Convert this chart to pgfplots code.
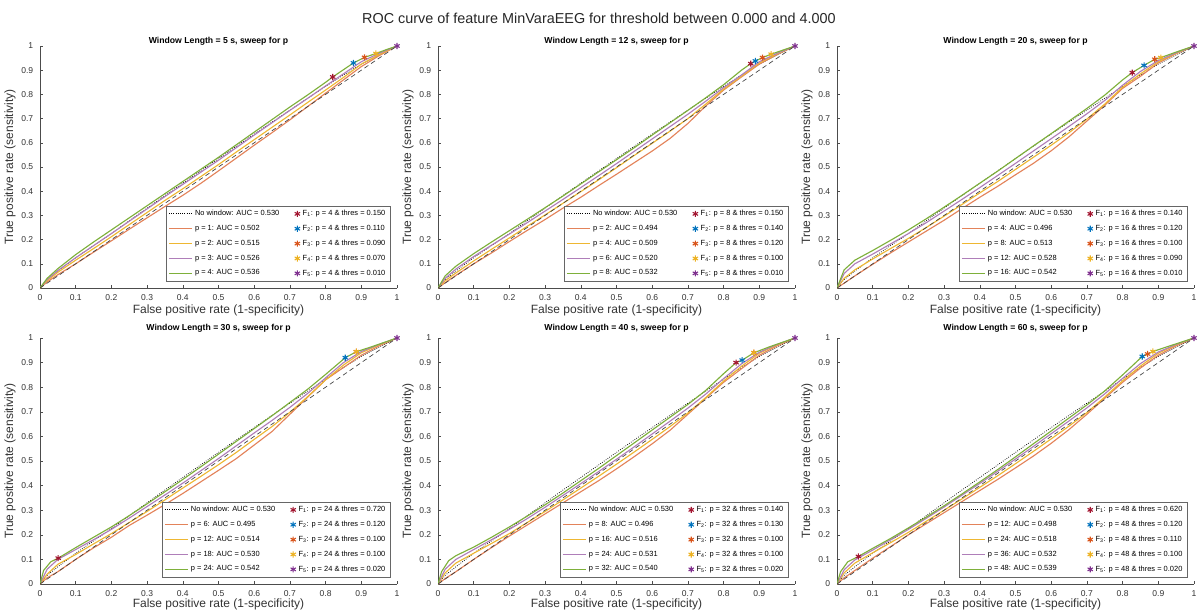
\documentclass[border=0pt]{standalone}
\usepackage{pgfplots}
\usepackage{pgfplotstable}
\pgfplotsset{compat=1.18}
\usepackage{fontspec}
\setmainfont{Liberation Sans}

\definecolor{mOrange}{rgb}{0.85,0.325,0.098}
\definecolor{mYellow}{rgb}{0.929,0.694,0.125}
\definecolor{mPurple}{rgb}{0.494,0.184,0.556}
\definecolor{mGreen}{rgb}{0.466,0.674,0.188}
\definecolor{mBlue}{rgb}{0,0.447,0.741}
\definecolor{mRed}{rgb}{0.635,0.078,0.184}
\colorlet{cO}{mOrange!72!white}
\colorlet{cY}{mYellow!92!white}
\colorlet{cP}{mPurple!62!white}
\colorlet{cG}{mGreen!95!white}

\pgfplotstableread{
x y
0 0
0.02 0.035
0.05 0.07
0.1 0.125
0.15 0.175
0.2 0.225
0.25 0.278
0.3 0.33
0.35 0.382
0.4 0.433
0.45 0.484
0.5 0.535
0.55 0.586
0.6 0.636
0.65 0.686
0.7 0.735
0.75 0.784
0.8 0.833
0.85 0.88
0.9 0.925
0.95 0.963
1 1
}\nowin

\pgfplotsset{
  roc/.style={
    scale only axis, width=267.75pt,
    xmin=0, xmax=1, ymin=0, ymax=1,
    axis x line*=bottom, axis y line*=left,
    axis line style={-, draw=black!70, line width=0.45pt},
    tick align=inside, major tick length=2.6pt,
    tick style={draw=black!70, line width=0.45pt},
    xtick={0,0.1,0.2,0.3,0.4,0.5,0.6,0.7,0.8,0.9,1},
    ytick={0,0.1,0.2,0.3,0.4,0.5,0.6,0.7,0.8,0.9,1},
    /pgf/number format/.cd, fixed, precision=1, assume math mode=true, /pgfplots/.cd,
    tick label style={font=\fontsize{6.4}{7.5}\selectfont, text=black!80},
    xticklabel style={yshift=-1.2pt},
    yticklabel style={xshift=-1.6pt},
    xlabel={False positive rate (1-specificity)},
    ylabel={True positive rate (sensitivity)},
    label style={font=\fontsize{9}{10}\selectfont, text=black!80},
    xlabel style={at={(axis description cs:0.5,-0.091)}, anchor=center},
    ylabel style={at={(axis description cs:-0.084,0.5)}, anchor=center, rotate=0},
    title style={font=\bfseries\fontsize{6.5}{7.5}\selectfont, text=black, yshift=-9pt},
    legend columns=2,
    legend cell align=left,
    legend style={at={(rel axis cs:1,0)}, anchor=south east, xshift=-5pt, yshift=5pt,
      font=\fontsize{5.6}{6.5}\selectfont, draw=black!60, line width=0.4pt,
      inner xsep=1.5pt, inner ysep=1pt, row sep=1.6pt,
      /tikz/every even column/.append style={column sep=9.5pt}},
  },
  row2/.style={height=184.5pt, title style={yshift=4pt},
    xlabel style={at={(axis description cs:0.5,-0.081)}}},
  nw/.style={black, line width=0.55pt, dash pattern=on 0.55pt off 1.1pt},
  pO/.style={cO, line width=0.85pt},
  pY/.style={cY, line width=0.85pt},
  pP/.style={cP, line width=0.85pt},
  pG/.style={cG, line width=0.85pt},
  dg/.style={black!75, line width=0.5pt, dash pattern=on 3.5pt off 2.5pt},
  mk/.style={only marks, mark=asterisk, mark size=2.3pt, line width=0.8pt},
  m1/.style={mk, mRed, mark options={mRed}},
  m2/.style={mk, mBlue, mark options={mBlue}},
  m3/.style={mk, mOrange, mark options={mOrange}},
  m4/.style={mk, mYellow, mark options={mYellow}},
  m5/.style={mk, mPurple, mark options={mPurple}},
}

\begin{document}
\begin{tikzpicture}
\useasboundingbox (0pt,0pt) rectangle (898.5pt,-457.5pt);
\node[font=\fontsize{10.8}{12}\selectfont, text=black!85] at (449.25pt,-13.5pt)
  {ROC curve of feature MinVaraEEG for threshold between 0.000 and 4.000};

% ---------------- Panel 1: 5 s ----------------
\begin{axis}[roc, at={(30pt,-216pt)}, anchor=south west, height=181.5pt,
  title={Window Length = 5 s, sweep for p}]
\addplot[nw, forget plot] table {\nowin};
\addplot[pO, forget plot] coordinates {(0,0)(0.02,0.025)(0.05,0.055)(0.1,0.1)(0.15,0.148)(0.2,0.195)(0.25,0.243)(0.3,0.29)(0.35,0.337)(0.4,0.383)(0.45,0.432)(0.5,0.484)(0.55,0.537)(0.6,0.59)(0.65,0.642)(0.7,0.695)(0.75,0.75)(0.8,0.805)(0.85,0.86)(0.9,0.915)(0.95,0.96)(1,1)};
\addplot[pY, forget plot] coordinates {(0,0)(0.02,0.03)(0.05,0.065)(0.1,0.115)(0.15,0.163)(0.2,0.212)(0.25,0.262)(0.3,0.312)(0.35,0.362)(0.4,0.41)(0.45,0.46)(0.5,0.51)(0.55,0.562)(0.6,0.613)(0.65,0.664)(0.7,0.715)(0.75,0.767)(0.8,0.818)(0.85,0.87)(0.9,0.925)(0.95,0.965)(1,1)};
\addplot[pP, forget plot] coordinates {(0,0)(0.02,0.035)(0.05,0.072)(0.1,0.125)(0.15,0.175)(0.2,0.225)(0.25,0.276)(0.3,0.327)(0.35,0.378)(0.4,0.428)(0.45,0.478)(0.5,0.528)(0.55,0.58)(0.6,0.632)(0.65,0.683)(0.7,0.734)(0.75,0.784)(0.8,0.835)(0.85,0.885)(0.9,0.935)(0.95,0.97)(1,1)};
\addplot[pG, forget plot] coordinates {(0,0)(0.02,0.04)(0.05,0.08)(0.1,0.138)(0.15,0.19)(0.2,0.24)(0.25,0.29)(0.3,0.34)(0.35,0.39)(0.4,0.44)(0.45,0.49)(0.5,0.54)(0.55,0.592)(0.6,0.644)(0.65,0.696)(0.7,0.748)(0.75,0.798)(0.8,0.85)(0.82,0.872)(0.878,0.93)(0.909,0.953)(0.941,0.969)(0.97,0.985)(1,1)};
\addplot[dg, forget plot] coordinates {(0,0)(1,1)};
\addplot[m1, forget plot] coordinates {(0.82,0.872)};
\addplot[m2, forget plot] coordinates {(0.878,0.93)};
\addplot[m3, forget plot] coordinates {(0.909,0.953)};
\addplot[m4, forget plot] coordinates {(0.941,0.969)};
\addplot[m5, forget plot] coordinates {(1,1)};
\addlegendimage{nw}\addlegendentry{No window: AUC = 0.530}
\addlegendimage{m1}\addlegendentry{F\textsubscript{1}: p = 4 \& thres = 0.150}
\addlegendimage{pO}\addlegendentry{p = 1: AUC = 0.502}
\addlegendimage{m2}\addlegendentry{F\textsubscript{2}: p = 4 \& thres = 0.110}
\addlegendimage{pY}\addlegendentry{p = 2: AUC = 0.515}
\addlegendimage{m3}\addlegendentry{F\textsubscript{3}: p = 4 \& thres = 0.090}
\addlegendimage{pP}\addlegendentry{p = 3: AUC = 0.526}
\addlegendimage{m4}\addlegendentry{F\textsubscript{4}: p = 4 \& thres = 0.070}
\addlegendimage{pG}\addlegendentry{p = 4: AUC = 0.536}
\addlegendimage{m5}\addlegendentry{F\textsubscript{5}: p = 4 \& thres = 0.010}
\end{axis}

% ---------------- Panel 2: 12 s ----------------
\begin{axis}[roc, at={(328.5pt,-216pt)}, anchor=south west, height=181.5pt,
  title={Window Length = 12 s, sweep for p}]
\addplot[nw, forget plot] table {\nowin};
\addplot[pO, forget plot] coordinates {(0,0)(0.02,0.022)(0.05,0.052)(0.1,0.1)(0.15,0.145)(0.2,0.192)(0.25,0.238)(0.3,0.283)(0.35,0.33)(0.4,0.375)(0.45,0.423)(0.5,0.47)(0.55,0.518)(0.6,0.566)(0.65,0.618)(0.7,0.68)(0.75,0.752)(0.8,0.818)(0.85,0.872)(0.9,0.925)(0.95,0.965)(1,1)};
\addplot[pY, forget plot] coordinates {(0,0)(0.02,0.03)(0.05,0.062)(0.1,0.112)(0.15,0.16)(0.2,0.207)(0.25,0.255)(0.3,0.302)(0.35,0.35)(0.4,0.398)(0.45,0.447)(0.5,0.497)(0.55,0.548)(0.6,0.598)(0.65,0.648)(0.7,0.7)(0.75,0.76)(0.8,0.822)(0.85,0.875)(0.9,0.93)(0.95,0.968)(1,1)};
\addplot[pP, forget plot] coordinates {(0,0)(0.02,0.04)(0.05,0.078)(0.1,0.13)(0.15,0.177)(0.2,0.223)(0.25,0.27)(0.3,0.318)(0.35,0.366)(0.4,0.415)(0.45,0.464)(0.5,0.514)(0.55,0.565)(0.6,0.616)(0.65,0.667)(0.7,0.718)(0.75,0.772)(0.8,0.828)(0.85,0.88)(0.9,0.935)(0.95,0.97)(1,1)};
\addplot[pG, forget plot] coordinates {(0,0)(0.02,0.05)(0.05,0.09)(0.1,0.142)(0.15,0.19)(0.2,0.237)(0.25,0.284)(0.3,0.332)(0.35,0.38)(0.4,0.43)(0.45,0.48)(0.5,0.53)(0.55,0.58)(0.6,0.632)(0.65,0.683)(0.7,0.734)(0.75,0.786)(0.8,0.84)(0.85,0.9)(0.876,0.927)(0.889,0.938)(0.909,0.952)(0.933,0.966)(0.97,0.985)(1,1)};
\addplot[dg, forget plot] coordinates {(0,0)(1,1)};
\addplot[m1, forget plot] coordinates {(0.876,0.927)};
\addplot[m2, forget plot] coordinates {(0.889,0.938)};
\addplot[m3, forget plot] coordinates {(0.909,0.952)};
\addplot[m4, forget plot] coordinates {(0.933,0.966)};
\addplot[m5, forget plot] coordinates {(1,1)};
\addlegendimage{nw}\addlegendentry{No window: AUC = 0.530}
\addlegendimage{m1}\addlegendentry{F\textsubscript{1}: p = 8 \& thres = 0.150}
\addlegendimage{pO}\addlegendentry{p = 2: AUC = 0.494}
\addlegendimage{m2}\addlegendentry{F\textsubscript{2}: p = 8 \& thres = 0.140}
\addlegendimage{pY}\addlegendentry{p = 4: AUC = 0.509}
\addlegendimage{m3}\addlegendentry{F\textsubscript{3}: p = 8 \& thres = 0.120}
\addlegendimage{pP}\addlegendentry{p = 6: AUC = 0.520}
\addlegendimage{m4}\addlegendentry{F\textsubscript{4}: p = 8 \& thres = 0.100}
\addlegendimage{pG}\addlegendentry{p = 8: AUC = 0.532}
\addlegendimage{m5}\addlegendentry{F\textsubscript{5}: p = 8 \& thres = 0.010}
\end{axis}

% ---------------- Panel 3: 20 s ----------------
\begin{axis}[roc, at={(627.75pt,-216pt)}, anchor=south west, height=181.5pt,
  title={Window Length = 20 s, sweep for p}]
\addplot[nw, forget plot] table {\nowin};
\addplot[pO, forget plot] coordinates {(0,0)(0.02,0.02)(0.05,0.05)(0.1,0.098)(0.15,0.145)(0.2,0.19)(0.25,0.235)(0.3,0.28)(0.35,0.328)(0.4,0.375)(0.45,0.42)(0.5,0.468)(0.55,0.515)(0.6,0.567)(0.65,0.625)(0.7,0.69)(0.75,0.755)(0.8,0.825)(0.85,0.875)(0.9,0.93)(0.95,0.968)(1,1)};
\addplot[pY, forget plot] coordinates {(0,0)(0.02,0.04)(0.05,0.075)(0.1,0.12)(0.15,0.163)(0.2,0.205)(0.25,0.25)(0.3,0.297)(0.35,0.345)(0.4,0.393)(0.45,0.44)(0.5,0.49)(0.55,0.54)(0.6,0.59)(0.65,0.642)(0.7,0.698)(0.75,0.76)(0.8,0.83)(0.85,0.885)(0.9,0.935)(0.95,0.97)(1,1)};
\addplot[pP, forget plot] coordinates {(0,0)(0.02,0.06)(0.05,0.1)(0.1,0.14)(0.15,0.182)(0.2,0.225)(0.25,0.27)(0.3,0.318)(0.35,0.366)(0.4,0.415)(0.45,0.465)(0.5,0.515)(0.55,0.566)(0.6,0.617)(0.65,0.668)(0.7,0.72)(0.75,0.775)(0.8,0.838)(0.85,0.895)(0.9,0.94)(0.95,0.972)(1,1)};
\addplot[pG, forget plot] coordinates {(0,0)(0.02,0.075)(0.05,0.115)(0.1,0.155)(0.15,0.197)(0.2,0.24)(0.25,0.286)(0.3,0.334)(0.35,0.383)(0.4,0.433)(0.45,0.483)(0.5,0.535)(0.55,0.587)(0.6,0.638)(0.65,0.69)(0.7,0.742)(0.75,0.797)(0.8,0.86)(0.827,0.89)(0.86,0.92)(0.89,0.945)(0.907,0.952)(0.95,0.975)(1,1)};
\addplot[dg, forget plot] coordinates {(0,0)(1,1)};
\addplot[m1, forget plot] coordinates {(0.827,0.89)};
\addplot[m2, forget plot] coordinates {(0.86,0.92)};
\addplot[m3, forget plot] coordinates {(0.89,0.945)};
\addplot[m4, forget plot] coordinates {(0.907,0.952)};
\addplot[m5, forget plot] coordinates {(1,1)};
\addlegendimage{nw}\addlegendentry{No window: AUC = 0.530}
\addlegendimage{m1}\addlegendentry{F\textsubscript{1}: p = 16 \& thres = 0.140}
\addlegendimage{pO}\addlegendentry{p = 4: AUC = 0.496}
\addlegendimage{m2}\addlegendentry{F\textsubscript{2}: p = 16 \& thres = 0.120}
\addlegendimage{pY}\addlegendentry{p = 8: AUC = 0.513}
\addlegendimage{m3}\addlegendentry{F\textsubscript{3}: p = 16 \& thres = 0.100}
\addlegendimage{pP}\addlegendentry{p = 12: AUC = 0.528}
\addlegendimage{m4}\addlegendentry{F\textsubscript{4}: p = 16 \& thres = 0.090}
\addlegendimage{pG}\addlegendentry{p = 16: AUC = 0.542}
\addlegendimage{m5}\addlegendentry{F\textsubscript{5}: p = 16 \& thres = 0.010}
\end{axis}

% ---------------- Panel 4: 30 s ----------------
\begin{axis}[roc, row2, at={(30pt,-438pt)}, anchor=south west,
  title={Window Length = 30 s, sweep for p}]
\addplot[nw, forget plot] table {\nowin};
\addplot[pO, forget plot] coordinates {(0,0)(0.02,0.025)(0.05,0.05)(0.1,0.1)(0.15,0.147)(0.2,0.19)(0.25,0.238)(0.3,0.28)(0.35,0.323)(0.4,0.368)(0.45,0.415)(0.5,0.462)(0.55,0.51)(0.6,0.565)(0.65,0.62)(0.7,0.69)(0.75,0.76)(0.8,0.83)(0.85,0.88)(0.9,0.93)(0.95,0.968)(1,1)};
\addplot[pY, forget plot] coordinates {(0,0)(0.02,0.04)(0.05,0.08)(0.1,0.12)(0.15,0.163)(0.2,0.205)(0.25,0.25)(0.3,0.295)(0.35,0.342)(0.4,0.39)(0.45,0.437)(0.5,0.485)(0.55,0.535)(0.6,0.588)(0.65,0.64)(0.7,0.698)(0.75,0.762)(0.8,0.83)(0.85,0.89)(0.9,0.94)(0.95,0.972)(1,1)};
\addplot[pP, forget plot] coordinates {(0,0)(0.02,0.06)(0.05,0.1)(0.1,0.14)(0.15,0.18)(0.2,0.222)(0.25,0.268)(0.3,0.315)(0.35,0.362)(0.4,0.41)(0.45,0.46)(0.5,0.51)(0.55,0.562)(0.6,0.614)(0.65,0.665)(0.7,0.718)(0.75,0.775)(0.8,0.838)(0.85,0.9)(0.9,0.945)(0.95,0.974)(1,1)};
\addplot[pG, forget plot] coordinates {(0,0)(0.01,0.055)(0.03,0.09)(0.051,0.105)(0.1,0.148)(0.15,0.19)(0.2,0.232)(0.25,0.278)(0.3,0.326)(0.35,0.375)(0.4,0.425)(0.45,0.476)(0.5,0.528)(0.55,0.58)(0.6,0.632)(0.65,0.684)(0.7,0.738)(0.75,0.792)(0.8,0.852)(0.855,0.92)(0.886,0.944)(0.93,0.965)(1,1)};
\addplot[dg, forget plot] coordinates {(0,0)(1,1)};
\addplot[m1, forget plot] coordinates {(0.051,0.105)};
\addplot[m2, forget plot] coordinates {(0.855,0.92)};
\addplot[m3, forget plot] coordinates {(0.886,0.944)};
\addplot[m4, forget plot] coordinates {(0.886,0.944)};
\addplot[m5, forget plot] coordinates {(1,1)};
\addlegendimage{nw}\addlegendentry{No window: AUC = 0.530}
\addlegendimage{m1}\addlegendentry{F\textsubscript{1}: p = 24 \& thres = 0.720}
\addlegendimage{pO}\addlegendentry{p = 6: AUC = 0.495}
\addlegendimage{m2}\addlegendentry{F\textsubscript{2}: p = 24 \& thres = 0.120}
\addlegendimage{pY}\addlegendentry{p = 12: AUC = 0.514}
\addlegendimage{m3}\addlegendentry{F\textsubscript{3}: p = 24 \& thres = 0.100}
\addlegendimage{pP}\addlegendentry{p = 18: AUC = 0.530}
\addlegendimage{m4}\addlegendentry{F\textsubscript{4}: p = 24 \& thres = 0.100}
\addlegendimage{pG}\addlegendentry{p = 24: AUC = 0.542}
\addlegendimage{m5}\addlegendentry{F\textsubscript{5}: p = 24 \& thres = 0.020}
\end{axis}

% ---------------- Panel 5: 40 s ----------------
\begin{axis}[roc, row2, at={(328.5pt,-438pt)}, anchor=south west,
  title={Window Length = 40 s, sweep for p}]
\addplot[nw, forget plot] table {\nowin};
\addplot[pO, forget plot] coordinates {(0,0)(0.02,0.022)(0.05,0.05)(0.1,0.1)(0.15,0.148)(0.2,0.195)(0.25,0.24)(0.3,0.285)(0.35,0.33)(0.4,0.375)(0.45,0.42)(0.5,0.468)(0.55,0.518)(0.6,0.57)(0.65,0.625)(0.7,0.69)(0.75,0.755)(0.8,0.82)(0.85,0.875)(0.9,0.93)(0.95,0.968)(1,1)};
\addplot[pY, forget plot] coordinates {(0,0)(0.02,0.045)(0.05,0.085)(0.1,0.125)(0.15,0.165)(0.2,0.205)(0.25,0.25)(0.3,0.295)(0.35,0.342)(0.4,0.39)(0.45,0.438)(0.5,0.487)(0.55,0.537)(0.6,0.588)(0.65,0.64)(0.7,0.695)(0.75,0.758)(0.8,0.825)(0.85,0.885)(0.9,0.938)(0.95,0.972)(1,1)};
\addplot[pP, forget plot] coordinates {(0,0)(0.02,0.06)(0.05,0.1)(0.1,0.14)(0.15,0.18)(0.2,0.222)(0.25,0.266)(0.3,0.312)(0.35,0.36)(0.4,0.408)(0.45,0.457)(0.5,0.507)(0.55,0.558)(0.6,0.61)(0.65,0.662)(0.7,0.715)(0.75,0.772)(0.8,0.835)(0.85,0.895)(0.9,0.942)(0.95,0.974)(1,1)};
\addplot[pG, forget plot] coordinates {(0,0)(0.01,0.05)(0.03,0.095)(0.05,0.115)(0.1,0.15)(0.15,0.19)(0.2,0.232)(0.25,0.276)(0.3,0.322)(0.35,0.37)(0.4,0.42)(0.45,0.47)(0.5,0.522)(0.55,0.574)(0.6,0.626)(0.65,0.678)(0.7,0.73)(0.75,0.787)(0.8,0.855)(0.835,0.9)(0.852,0.91)(0.885,0.94)(0.93,0.965)(1,1)};
\addplot[dg, forget plot] coordinates {(0,0)(1,1)};
\addplot[m1, forget plot] coordinates {(0.835,0.9)};
\addplot[m2, forget plot] coordinates {(0.852,0.91)};
\addplot[m3, forget plot] coordinates {(0.885,0.94)};
\addplot[m4, forget plot] coordinates {(0.885,0.94)};
\addplot[m5, forget plot] coordinates {(1,1)};
\addlegendimage{nw}\addlegendentry{No window: AUC = 0.530}
\addlegendimage{m1}\addlegendentry{F\textsubscript{1}: p = 32 \& thres = 0.140}
\addlegendimage{pO}\addlegendentry{p = 8: AUC = 0.496}
\addlegendimage{m2}\addlegendentry{F\textsubscript{2}: p = 32 \& thres = 0.130}
\addlegendimage{pY}\addlegendentry{p = 16: AUC = 0.516}
\addlegendimage{m3}\addlegendentry{F\textsubscript{3}: p = 32 \& thres = 0.100}
\addlegendimage{pP}\addlegendentry{p = 24: AUC = 0.531}
\addlegendimage{m4}\addlegendentry{F\textsubscript{4}: p = 32 \& thres = 0.100}
\addlegendimage{pG}\addlegendentry{p = 32: AUC = 0.540}
\addlegendimage{m5}\addlegendentry{F\textsubscript{5}: p = 32 \& thres = 0.020}
\end{axis}

% ---------------- Panel 6: 60 s ----------------
\begin{axis}[roc, row2, at={(627.75pt,-438pt)}, anchor=south west,
  title={Window Length = 60 s, sweep for p}]
\addplot[nw, forget plot] table {\nowin};
\addplot[pO, forget plot] coordinates {(0,0)(0.02,0.025)(0.05,0.055)(0.1,0.105)(0.15,0.152)(0.2,0.2)(0.25,0.245)(0.3,0.29)(0.35,0.335)(0.4,0.38)(0.45,0.425)(0.5,0.472)(0.55,0.52)(0.6,0.572)(0.65,0.628)(0.7,0.69)(0.75,0.755)(0.8,0.82)(0.85,0.878)(0.9,0.93)(0.95,0.968)(1,1)};
\addplot[pY, forget plot] coordinates {(0,0)(0.02,0.045)(0.05,0.085)(0.1,0.127)(0.15,0.168)(0.2,0.21)(0.25,0.255)(0.3,0.3)(0.35,0.346)(0.4,0.393)(0.45,0.44)(0.5,0.489)(0.55,0.539)(0.6,0.59)(0.65,0.642)(0.7,0.697)(0.75,0.76)(0.8,0.826)(0.85,0.886)(0.9,0.938)(0.95,0.972)(1,1)};
\addplot[pP, forget plot] coordinates {(0,0)(0.02,0.058)(0.05,0.098)(0.1,0.138)(0.15,0.18)(0.2,0.222)(0.25,0.267)(0.3,0.313)(0.35,0.361)(0.4,0.409)(0.45,0.458)(0.5,0.508)(0.55,0.559)(0.6,0.611)(0.65,0.663)(0.7,0.716)(0.75,0.773)(0.8,0.836)(0.85,0.896)(0.9,0.943)(0.95,0.974)(1,1)};
\addplot[pG, forget plot] coordinates {(0,0)(0.01,0.05)(0.03,0.09)(0.06,0.112)(0.1,0.145)(0.15,0.185)(0.2,0.228)(0.25,0.272)(0.3,0.318)(0.35,0.366)(0.4,0.415)(0.45,0.465)(0.5,0.517)(0.55,0.57)(0.6,0.622)(0.65,0.675)(0.7,0.728)(0.75,0.785)(0.8,0.85)(0.855,0.925)(0.87,0.935)(0.885,0.945)(0.93,0.967)(1,1)};
\addplot[dg, forget plot] coordinates {(0,0)(1,1)};
\addplot[m1, forget plot] coordinates {(0.06,0.112)};
\addplot[m2, forget plot] coordinates {(0.855,0.925)};
\addplot[m3, forget plot] coordinates {(0.87,0.935)};
\addplot[m4, forget plot] coordinates {(0.885,0.945)};
\addplot[m5, forget plot] coordinates {(1,1)};
\addlegendimage{nw}\addlegendentry{No window: AUC = 0.530}
\addlegendimage{m1}\addlegendentry{F\textsubscript{1}: p = 48 \& thres = 0.620}
\addlegendimage{pO}\addlegendentry{p = 12: AUC = 0.498}
\addlegendimage{m2}\addlegendentry{F\textsubscript{2}: p = 48 \& thres = 0.120}
\addlegendimage{pY}\addlegendentry{p = 24: AUC = 0.518}
\addlegendimage{m3}\addlegendentry{F\textsubscript{3}: p = 48 \& thres = 0.110}
\addlegendimage{pP}\addlegendentry{p = 36: AUC = 0.532}
\addlegendimage{m4}\addlegendentry{F\textsubscript{4}: p = 48 \& thres = 0.100}
\addlegendimage{pG}\addlegendentry{p = 48: AUC = 0.539}
\addlegendimage{m5}\addlegendentry{F\textsubscript{5}: p = 48 \& thres = 0.020}
\end{axis}
\end{tikzpicture}
\end{document}
